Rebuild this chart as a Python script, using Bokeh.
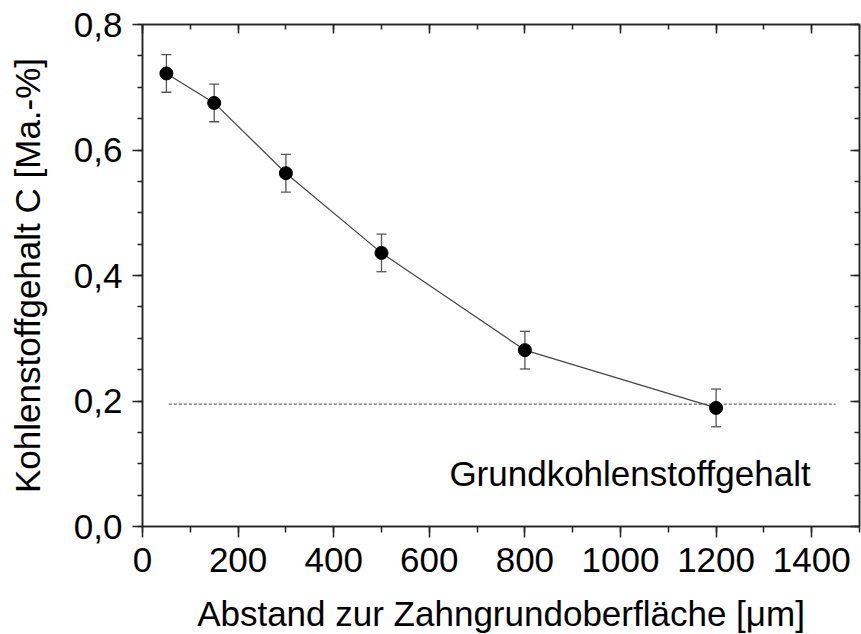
from bokeh.plotting import figure
from bokeh.models import (LinearAxis, Whisker, ColumnDataSource, Label, Range1d,
                          SingleIntervalTicker, TeeHead, CustomJSTickFormatter)
from bokeh.embed import file_html
from bokeh.resources import INLINE

# ---- data ----
distance = [50, 150, 300, 500, 800, 1200]
carbon = [0.722, 0.675, 0.563, 0.436, 0.281, 0.189]
carbon_err = [0.03, 0.03, 0.03, 0.03, 0.03, 0.03]
base_x = [55, 1450]
base_y = [0.195, 0.195]
x_label = "Abstand zur Zahngrundoberfläche [μm]"
y_label = "Kohlenstoffgehalt C [Ma.-%]"
annotation = "Grundkohlenstoffgehalt"

FONT = "Liberation Sans"
FS = "35px"
AXC = "#222222"

src = ColumnDataSource(data=dict(
    x=distance, y=carbon,
    lower=[c - e for c, e in zip(carbon, carbon_err)],
    upper=[c + e for c, e in zip(carbon, carbon_err)],
))

p = figure(width=861, height=649, x_range=Range1d(0, 1500), y_range=Range1d(0, 0.8),
           output_backend="svg", toolbar_location=None,
           min_border_left=142, min_border_top=24, min_border_right=2, min_border_bottom=123)
p.xgrid.visible = False
p.ygrid.visible = False
p.outline_line_color = AXC
p.outline_line_width = 1.5
p.background_fill_color = "white"
p.border_fill_color = "white"

xt = SingleIntervalTicker(interval=200, num_minor_ticks=2)
yt = SingleIntervalTicker(interval=0.2, num_minor_ticks=4)
yfmt = CustomJSTickFormatter(code="return tick.toFixed(1).replace('.', ',');")

xa = p.xaxis[0]
xa.ticker = xt
ya = p.yaxis[0]
ya.ticker = yt
ya.formatter = yfmt

for ax in (xa, ya):
    ax.axis_line_color = AXC
    ax.axis_line_width = 1.5
    ax.major_tick_line_color = AXC
    ax.minor_tick_line_color = AXC
    ax.major_tick_line_width = 1.5
    ax.minor_tick_line_width = 1.5
    ax.major_tick_in = 0
    ax.minor_tick_in = 0
    ax.major_label_text_font = FONT
    ax.major_label_text_font_size = FS
    ax.major_label_text_color = "black"
    ax.axis_label_text_font = FONT
    ax.axis_label_text_font_size = FS
    ax.axis_label_text_font_style = "normal"
    ax.axis_label_text_color = "black"

xa.major_tick_out = 11
xa.minor_tick_out = 6
xa.major_label_standoff = 10
xa.axis_label = x_label
xa.axis_label_standoff = 19

ya.major_tick_out = 10
ya.minor_tick_out = 5
ya.major_label_standoff = 10
ya.axis_label = y_label
ya.axis_label_standoff = 24

# mirrored axes with inward ticks, no labels
blank = CustomJSTickFormatter(code="return '';")
top = LinearAxis(ticker=SingleIntervalTicker(interval=200, num_minor_ticks=2), formatter=blank)
right = LinearAxis(ticker=SingleIntervalTicker(interval=0.2, num_minor_ticks=4), formatter=blank)
for ax in (top, right):
    ax.axis_line_color = AXC
    ax.axis_line_width = 1.5
    ax.major_tick_line_color = AXC
    ax.minor_tick_line_color = AXC
    ax.major_tick_line_width = 1.5
    ax.minor_tick_line_width = 1.5
    ax.major_tick_in = 9
    ax.major_tick_out = 0
    ax.minor_tick_in = 5
    ax.minor_tick_out = 0
    ax.major_label_text_font_size = "1px"
    ax.major_label_standoff = 0
p.add_layout(top, "above")
p.add_layout(right, "right")

# baseline
p.line(base_x, base_y, line_color="#666666", line_width=1.2, line_dash="3 2")

# series
p.line("x", "y", source=src, line_color="#444444", line_width=1.2)
wh = Whisker(source=src, base="x", lower="lower", upper="upper",
             line_color="#555555", line_width=1.3,
             upper_head=TeeHead(size=10, line_color="#555555", line_width=1.3),
             lower_head=TeeHead(size=10, line_color="#555555", line_width=1.3))
p.add_layout(wh)
p.scatter("x", "y", source=src, size=13, fill_color="black", line_color="black")

p.add_layout(Label(x=642, y=0.0845, text=annotation, text_font=FONT,
                   text_font_size=FS, text_color="black", text_baseline="alphabetic"))

open("out.html", "w").write(file_html(p, INLINE))
